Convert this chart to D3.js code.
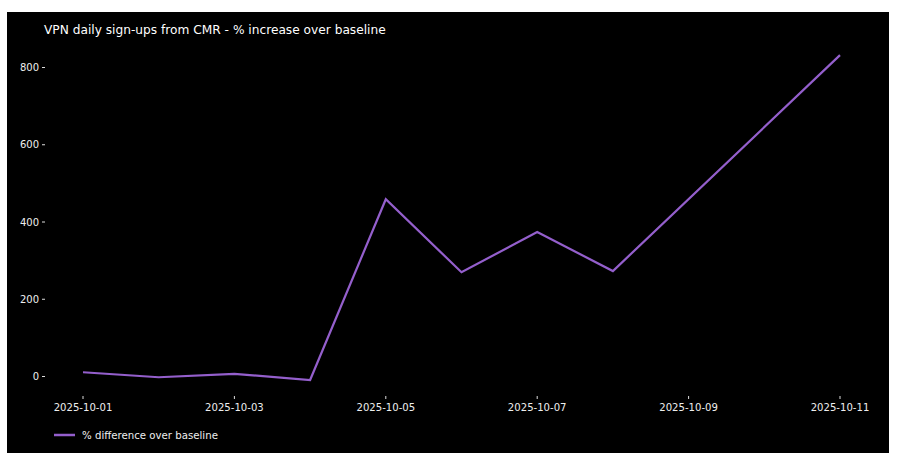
<!DOCTYPE html>
<html>
<head>
<meta charset="utf-8">
<script src="https://cdn.jsdelivr.net/npm/d3@7"></script>
<style>
  body { margin: 0; background: #fff; }
  text { font-family: "DejaVu Sans", sans-serif; }
</style>
</head>
<body>
<script>
// data (no values for 10-09 and 10-10, line just joins)
var dates = ["2025-10-01", "2025-10-02", "2025-10-03", "2025-10-04", "2025-10-05",
    "2025-10-06", "2025-10-07", "2025-10-08", "2025-10-11"];
var pctDiff = [11, -2, 7, -9, 459, 270, 374, 273, 832];
var yTicks = [0, 200, 400, 600, 800];
var xTickLabels = ["2025-10-01", "2025-10-03", "2025-10-05", "2025-10-07", "2025-10-09", "2025-10-11"];
var seriesName = "% difference over baseline";
var title = "VPN daily sign-ups from CMR - % increase over baseline";

var parse = d3.utcParse("%Y-%m-%d");
var rows = dates.map(function(d, i) { return { date: parse(d), value: pctDiff[i] }; });

var svg = d3.select("body").append("svg")
    .attr("width", 900)
    .attr("height", 461);

// black panel
svg.append("rect")
    .attr("x", 7).attr("y", 12)
    .attr("width", 882).attr("height", 441)
    .attr("fill", "#000");

var x = d3.scaleUtc()
    .domain([parse("2025-10-01"), parse("2025-10-11")])
    .range([83, 840]);

var y = d3.scaleLinear()
    .domain([0, 800])
    .range([376.5, 67.5]);

svg.append("text")
    .attr("x", 44).attr("y", 34)
    .attr("fill", "#fff")
    .style("font-size", "12.2px")
    .text(title);

// y axis: labels plus a little dash
var yg = svg.append("g");
yg.selectAll("line")
    .data(yTicks).enter().append("line")
    .attr("x1", 42).attr("x2", 45)
    .attr("y1", function(d) { return y(d); })
    .attr("y2", function(d) { return y(d); })
    .attr("stroke", "#ddd").attr("stroke-width", 1);
yg.selectAll("text")
    .data(yTicks).enter().append("text")
    .attr("x", 39)
    .attr("y", function(d) { return y(d) + 3.5; })
    .attr("text-anchor", "end")
    .attr("fill", "#eee")
    .style("font-size", "10px")
    .text(function(d) { return d; });

// x axis
var xg = svg.append("g");
xg.selectAll("line")
    .data(xTickLabels).enter().append("line")
    .attr("x1", function(d) { return x(parse(d)); })
    .attr("x2", function(d) { return x(parse(d)); })
    .attr("y1", 396).attr("y2", 399)
    .attr("stroke", "#ddd").attr("stroke-width", 1);
xg.selectAll("text")
    .data(xTickLabels).enter().append("text")
    .attr("x", function(d) { return x(parse(d)); })
    .attr("y", 411)
    .attr("text-anchor", "middle")
    .attr("fill", "#eee")
    .style("font-size", "10.1px")
    .text(function(d) { return d; });

var line = d3.line()
    .x(function(d) { return x(d.date); })
    .y(function(d) { return y(d.value); });

svg.append("path")
    .datum(rows)
    .attr("d", line)
    .attr("fill", "none")
    .attr("stroke", "#945fcc")
    .attr("stroke-width", 2.2)
    .attr("stroke-linejoin", "miter");

// legend
svg.append("line")
    .attr("x1", 54).attr("x2", 75)
    .attr("y1", 435).attr("y2", 435)
    .attr("stroke", "#945fcc").attr("stroke-width", 2.5);
svg.append("text")
    .attr("x", 82).attr("y", 438.5)
    .attr("fill", "#eee")
    .style("font-size", "10.2px")
    .text(seriesName);
</script>
</body>
</html>
